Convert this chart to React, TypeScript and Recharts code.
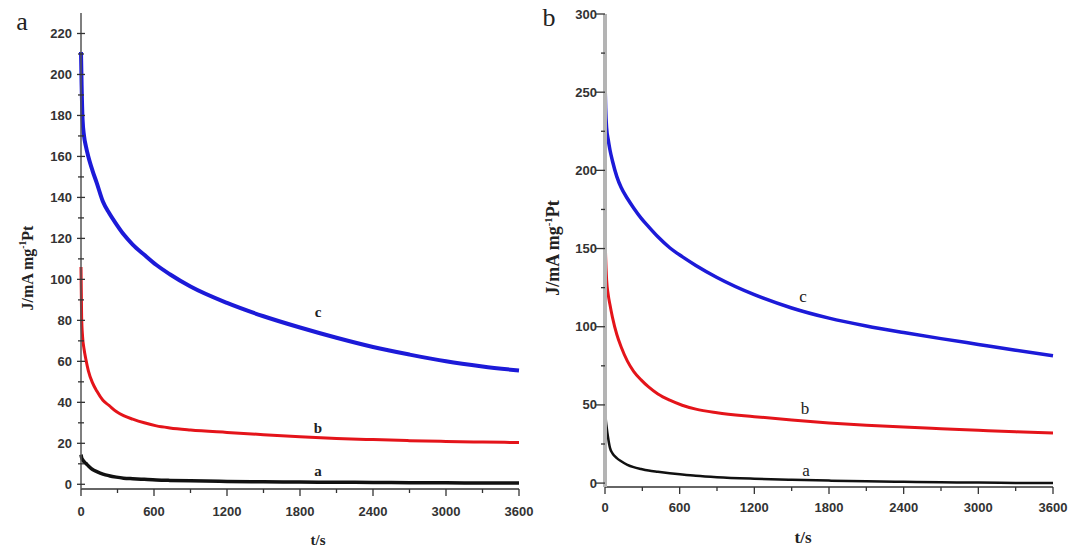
import React from 'react'
import { LineChart, Line, XAxis, YAxis } from 'recharts'

// sampling times (s), denser at the start where the current falls fast
const timesA = [0, 5, 13, 25, 40, 60, 95, 130, 180, 230, 290, 350, 425, 520, 620, 730, 900, 1200, 1500, 1800, 2100, 2400, 2700, 3000, 3300, 3600]
const aA = [14.5, 13, 12, 11, 10.2, 9, 7.2, 6.2, 5, 4.2, 3.5, 3, 2.7, 2.4, 2.1, 1.9, 1.7, 1.4, 1.2, 1.1, 1.0, 0.9, 0.8, 0.7, 0.65, 0.6]
const bA = [106, 82, 72, 66, 61, 55.5, 49.5, 45.5, 41, 38.5, 35.5, 33.5, 31.8, 30, 28.5, 27.5, 26.5, 25.3, 24.2, 23.2, 22.4, 21.8, 21.3, 20.9, 20.6, 20.4]
const cA = [211, 195, 178, 170, 165, 160, 153, 147, 138, 132.5, 127, 122, 117, 112, 107, 102.5, 96.5, 88.5, 82, 76.5, 71.5, 67, 63.3, 60, 57.5, 55.5]

const timesB = [0, 5, 13, 25, 40, 60, 95, 130, 180, 230, 290, 350, 425, 520, 620, 730, 900, 1200, 1500, 1800, 2100, 2400, 2700, 3000, 3300, 3600]
const aB = [51, 42, 36, 29, 22.5, 19, 16, 14, 11.7, 10.2, 9, 8, 7.2, 6.3, 5.5, 4.7, 3.8, 2.8, 2.1, 1.6, 1.2, 0.8, 0.5, 0.3, 0.1, 0]
const bB = [160, 145, 130, 121, 114, 106, 95, 87, 78, 71.5, 66, 61.5, 57, 53, 49.8, 47.3, 45, 42.5, 40.3, 38.5, 37, 35.8, 34.8, 33.8, 32.8, 32]
const cB = [257, 240, 227, 220, 213, 206, 196, 189, 182, 176, 169.5, 164, 157.5, 150.5, 144.8, 139.2, 131.5, 120.5, 112, 105.5, 100.5, 96.3, 92.4, 88.7, 85, 81.5]

const xTicks = [0, 300, 600, 900, 1200, 1500, 1800, 2100, 2400, 2700, 3000, 3300, 3600]
const xMajor = [0, 600, 1200, 1800, 2400, 3000, 3600]
const yTicksA = [0, 10, 20, 30, 40, 50, 60, 70, 80, 90, 100, 110, 120, 130, 140, 150, 160, 170, 180, 190, 200, 210, 220]
const yTicksB = [0, 25, 50, 75, 100, 125, 150, 175, 200, 225, 250, 275, 300]

const dataA = timesA.map((t, i) => ({ t, a: aA[i], b: bA[i], c: cA[i] }))
const dataB = timesB.map((t, i) => ({ t, a: aB[i], b: bB[i], c: cB[i] }))

const tickFont = { fontFamily: 'Liberation Sans, Arial, sans-serif', fontSize: 13, fontWeight: 700, fill: '#333' }

function makeYTick(step: number, cross: boolean, gap: number) {
  return (p: any) => {
    const { x, y, payload } = p
    const major = payload.value % step === 0
    const len = major ? (cross ? 4 : 9) : (cross ? 3 : 4)
    return (
      <g>
        <line x1={x - len} x2={cross ? x + len : x} y1={y} y2={y} stroke="#333" strokeWidth={1.3} />
        {major && (
          <text x={x - gap} y={y + 4.5} textAnchor="end" {...tickFont}>
            {payload.value}
          </text>
        )}
      </g>
    )
  }
}

function makeXTick(dy: number) {
  return (p: any) => {
    const { x, y, payload } = p
    const major = xMajor.includes(payload.value)
    return (
      <g>
        <line x1={x} x2={x} y1={y} y2={y + (major ? 7 : 4)} stroke="#333" strokeWidth={1.3} />
        {major && (
          <text x={x} y={y + dy} textAnchor="middle" {...tickFont}>
            {payload.value}
          </text>
        )}
      </g>
    )
  }
}

const serif = 'Liberation Serif, Times New Roman, serif'

function YTitle({ left, top, size }: { left: number; top: number; size: number }) {
  return (
    <div
      style={{
        position: 'absolute',
        left,
        top,
        transform: 'translate(-50%, -50%) rotate(-90deg)',
        whiteSpace: 'nowrap',
        fontFamily: serif,
        fontWeight: 700,
        fontSize: size,
        color: '#222',
      }}
    >
      J/mA mg<sup style={{ fontSize: size * 0.6 }}>-1</sup>Pt
    </div>
  )
}

function Txt({ left, top, size, children, bold }: any) {
  return (
    <div
      style={{
        position: 'absolute',
        left,
        top,
        transform: 'translate(-50%, -50%)',
        fontFamily: serif,
        fontSize: size,
        fontWeight: bold ? 700 : 400,
        color: '#222',
        lineHeight: 1,
      }}
    >
      {children}
    </div>
  )
}

export default function App() {
  return (
    <div style={{ position: 'absolute', left: 0, top: 0, width: 1068, height: 549, background: '#fff', overflow: 'hidden' }}>
      <div style={{ position: 'absolute', left: 0, top: 0 }}>
        <LineChart width={540} height={549} data={dataA} margin={{ top: 13, right: 21, bottom: 0, left: 0 }}>
          <XAxis
            dataKey="t"
            type="number"
            domain={[0, 3600]}
            ticks={xTicks}
            height={60}
            tickSize={0}
            tickMargin={0}
            tickLine={false}
            axisLine={{ stroke: '#333', strokeWidth: 1.5 }}
            tick={makeXTick(27)}
            interval={0}
          />
          <XAxis xAxisId="top" orientation="top" dataKey="t" type="number" domain={[0, 3600]} height={0} tick={false} tickLine={false} axisLine={{ stroke: '#333', strokeWidth: 2 }} />
          <YAxis
            type="number"
            domain={[-2.3, 230]}
            ticks={yTicksA}
            width={81}
            tickSize={0}
            tickMargin={0}
            tickLine={false}
            allowDataOverflow
            interval={0}
            axisLine={{ stroke: '#555', strokeWidth: 1.5 }}
            tick={makeYTick(20, true, 9)}
          />
          <YAxis yAxisId="right" orientation="right" domain={[-2.3, 230]} width={0} tick={false} tickLine={false} axisLine={{ stroke: '#999', strokeWidth: 1.5 }} />
          <Line type="monotone" dataKey="c" stroke="#1c1ad8" strokeWidth={4} dot={false} isAnimationActive={false} />
          <Line type="monotone" dataKey="b" stroke="#e4141a" strokeWidth={3} dot={false} isAnimationActive={false} />
          <Line type="monotone" dataKey="a" stroke="#111" strokeWidth={3.5} dot={false} isAnimationActive={false} />
        </LineChart>
      </div>
      <div style={{ position: 'absolute', left: 530, top: 0 }}>
        <LineChart width={538} height={549} data={dataB} margin={{ top: 14, right: 15, bottom: 0, left: 0 }}>
          <XAxis
            dataKey="t"
            type="number"
            domain={[0, 3600]}
            ticks={xTicks}
            height={62}
            tickSize={0}
            tickMargin={0}
            tickLine={false}
            axisLine={{ stroke: '#333', strokeWidth: 1.5 }}
            tick={makeXTick(25)}
            interval={0}
          />
          <XAxis xAxisId="top" orientation="top" dataKey="t" type="number" domain={[0, 3600]} height={0} tick={false} tickLine={false} axisLine={{ stroke: '#666', strokeWidth: 1.5 }} />
          <YAxis
            type="number"
            domain={[-2.5, 300]}
            ticks={yTicksB}
            width={75}
            tickSize={0}
            tickMargin={0}
            tickLine={false}
            allowDataOverflow
            interval={0}
            axisLine={{ stroke: '#b4b4b4', strokeWidth: 4 }}
            tick={makeYTick(50, false, 8)}
          />
          <YAxis yAxisId="right" orientation="right" domain={[-2.5, 300]} width={0} tick={false} tickLine={false} axisLine={{ stroke: '#999', strokeWidth: 1.5 }} />
          <Line type="monotone" dataKey="c" stroke="#1c1ad8" strokeWidth={3.5} dot={false} isAnimationActive={false} />
          <Line type="monotone" dataKey="b" stroke="#e4141a" strokeWidth={3} dot={false} isAnimationActive={false} />
          <Line type="monotone" dataKey="a" stroke="#111" strokeWidth={2.5} dot={false} isAnimationActive={false} />
        </LineChart>
      </div>

      <Txt left={22} top={22} size={26}>a</Txt>
      <Txt left={549} top={18} size={26}>b</Txt>

      <YTitle left={27} top={268} size={16} />
      <YTitle left={553} top={248} size={18} />

      <Txt left={318} top={540} size={15} bold>t/s</Txt>
      <Txt left={803} top={537} size={17} bold>t/s</Txt>

      <Txt left={318} top={312} size={15} bold>c</Txt>
      <Txt left={318} top={428} size={15} bold>b</Txt>
      <Txt left={318} top={471} size={15} bold>a</Txt>

      <Txt left={803} top={296} size={17}>c</Txt>
      <Txt left={805} top={408} size={17}>b</Txt>
      <Txt left={806} top={470} size={17}>a</Txt>
    </div>
  )
}
